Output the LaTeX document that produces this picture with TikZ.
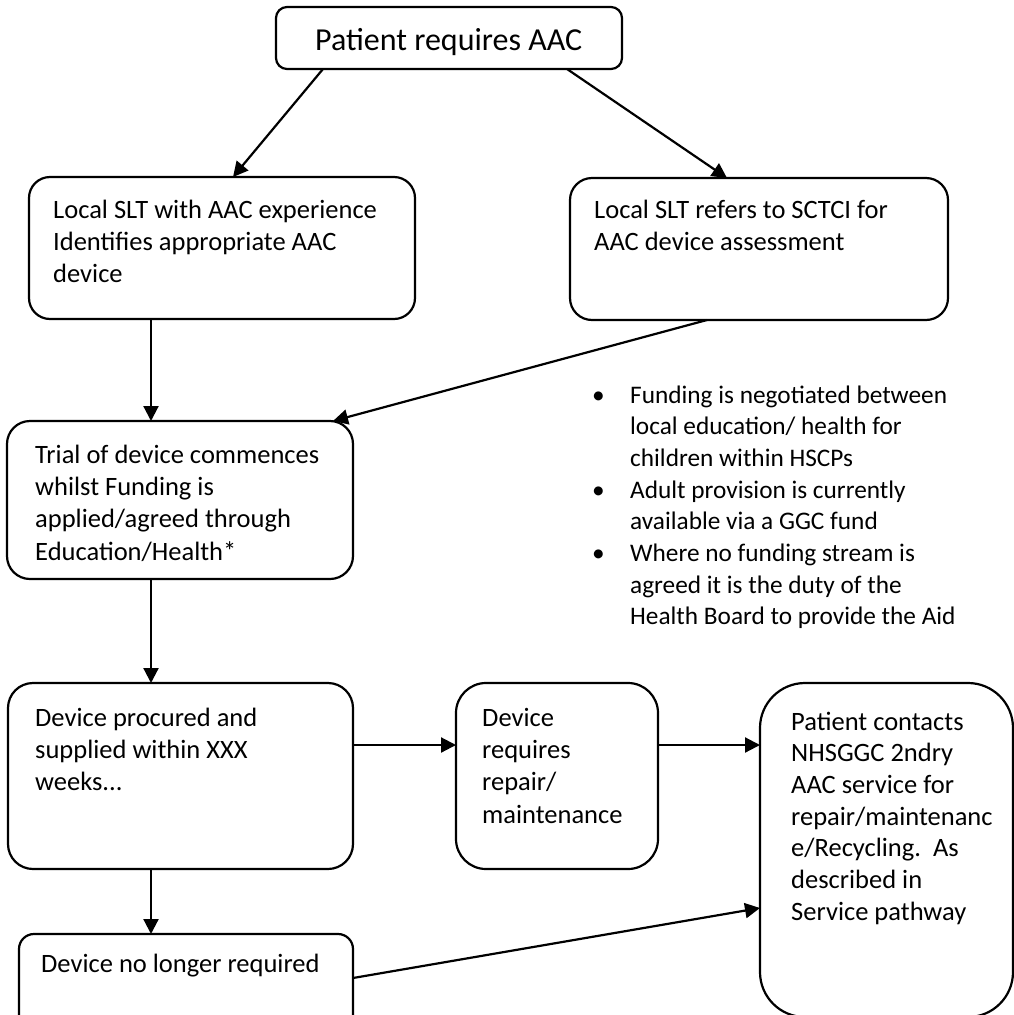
\documentclass[tikz,border=0pt]{standalone}
\usepackage{fontspec}
\setmainfont{Carlito}
\usetikzlibrary{arrows.meta,calc}
\begin{document}
\begin{tikzpicture}[x=1pt,y=-1pt,
  box/.style={draw,line width=2.2pt,anchor=north west,inner sep=0pt,outer sep=0pt},
  txt/.style={anchor=base west,inner sep=0pt,text width=#1,align=flush left,font=\fontsize{26.5}{32.4}\selectfont},
  arr/.style={line width=2.2pt,-{Triangle[length=15pt,width=15pt]}}]
\useasboundingbox (0,0) rectangle (1014,1015);

% boxes
\node[box,rounded corners=11pt,minimum width=346pt,minimum height=62pt] (top) at (276,7) {};
\node[anchor=base west,inner sep=0pt,font=\fontsize{32}{38}\selectfont] (ttop) at (315,50) {Patient requires AAC};

\node[box,rounded corners=21pt,minimum width=386pt,minimum height=142pt] (b2) at (29,177) {};
\node[txt=370pt] (t2) at (53,218) {Local SLT with AAC experience\\Identifies appropriate AAC\\device};

\node[box,rounded corners=22pt,minimum width=378pt,minimum height=142pt] (b3) at (570,178) {};
\node[txt=370pt] (t3) at (594,218) {Local SLT refers to SCTCI for\\AAC device assessment};

\node[box,rounded corners=23pt,minimum width=346pt,minimum height=158pt] (trial) at (7,421) {};
\node[txt=330pt] (ttrial) at (35,463) {Trial of device commences\\whilst Funding is\\applied/agreed through\\Education/Health*};

\node[box,rounded corners=25pt,minimum width=345pt,minimum height=186pt] (procured) at (8,683) {};
\node[txt=330pt] (tprocured) at (35,726) {Device procured and\\supplied within XXX\\weeks...};

\node[box,rounded corners=30pt,minimum width=202pt,minimum height=186pt] (repair) at (456,683) {};
\node[txt=200pt] (trepair) at (482,726) {Device\\requires\\repair/\\maintenance};

\node[box,rounded corners=45pt,minimum width=253pt,minimum height=334pt] (patient) at (760,683) {};
\node[txt=240pt,font=\fontsize{26.5}{31.7}\selectfont] (tpatient) at (791,730) {Patient contacts\\NHSGGC 2ndry\\AAC service for\\repair/maintenanc\\e/Recycling.\ \ As\\described in\\Service pathway};

\node[box,rounded corners=15pt,minimum width=334pt,minimum height=95pt] (nolonger) at (19,934) {};
\node[txt=320pt] (tnolonger) at (41,972) {Device no longer required};

% bullet list
\node[anchor=base west,inner sep=0pt,text width=420pt,align=flush left,font=\fontsize{25.3}{31.7}\selectfont] (notes) at (592,403) {%
\makebox[38pt][l]{•}Funding is negotiated between\\\hspace*{38pt}local education/ health for\\\hspace*{38pt}children within HSCPs\\
\makebox[38pt][l]{•}Adult provision is currently\\\hspace*{38pt}available via a GGC fund\\
\makebox[38pt][l]{•}Where no funding stream is\\\hspace*{38pt}agreed it is the duty of the\\\hspace*{38pt}Health Board to provide the Aid};

% connectors
\draw[arr] ([xshift=47pt]top.south west) -- ([xshift=204pt]b2.north west);
\draw[arr] ([xshift=291pt]top.south west) -- ([xshift=157pt]b3.north west);
\draw[arr] ([xshift=122pt]b2.south west) -- ([xshift=144pt]trial.north west);
\draw[arr] ([xshift=137pt]b3.south west) -- ([xshift=326pt]trial.north west);
\draw[arr] ([xshift=144pt]trial.south west) -- ([xshift=143pt]procured.north west);
\draw[arr] ([yshift=-62pt]procured.north east) -- ([yshift=-62pt]repair.north west);
\draw[arr] ([yshift=-62pt]repair.north east) -- ([yshift=-62pt]patient.north west);
\draw[arr] ([xshift=143pt]procured.south west) -- ([xshift=132pt]nolonger.north west);
\draw[arr] ([yshift=-44pt]nolonger.north east) -- ([yshift=-225pt]patient.north west);
\end{tikzpicture}
\end{document}
